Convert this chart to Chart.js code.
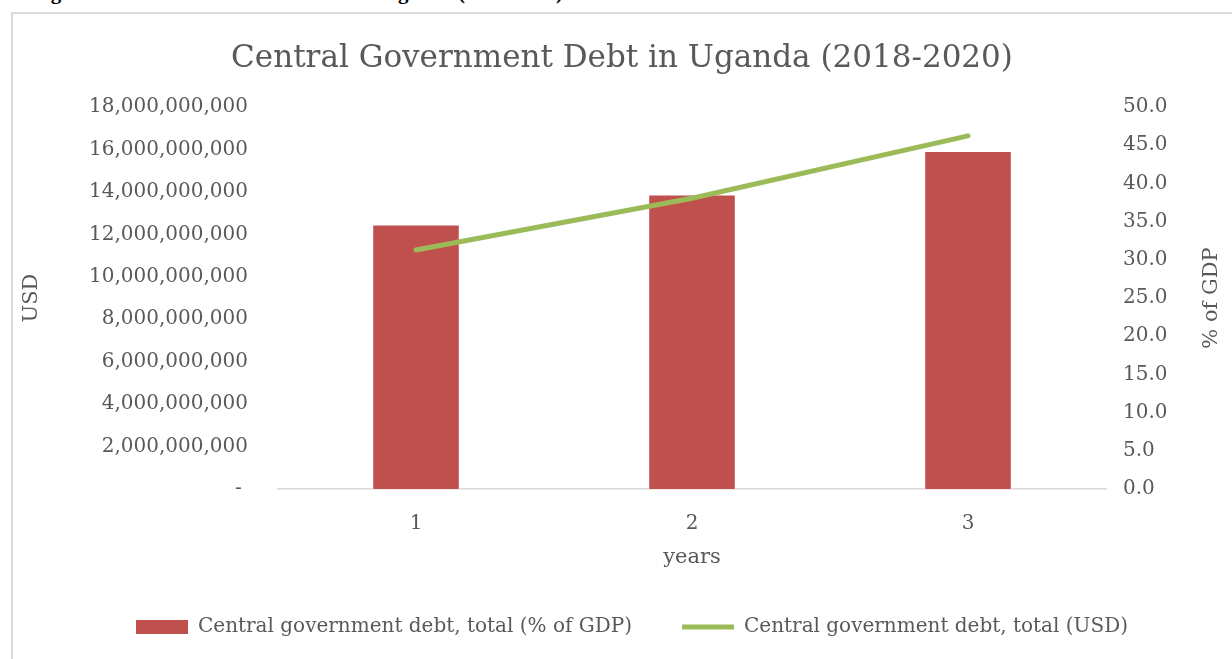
<!DOCTYPE html>
<html>
<head>
<meta charset="utf-8">
<script src="https://cdn.jsdelivr.net/npm/chart.js@4"></script>
<style>
    body { margin: 0; background: #fff; overflow: hidden; }
    #wrap { position: relative; width: 1232px; height: 659px; overflow: hidden; }
    #frame { position: absolute; left: 11px; top: 12px; right: -5px; bottom: -5px;
             border-left: 2px solid #d9d9d9; border-top: 2px solid #d9d9d9; }
    #heading { position: absolute; left: 32px; top: -20px; font: bold 21px "Liberation Serif", serif;
               line-height: 24px; color: #000; white-space: nowrap; }
    #chartBox { position: absolute; left: 0; top: 0; width: 1232px; height: 659px; }
</style>
</head>
<body>
<div id="wrap">
    <div id="heading">Figure 3: Central Government Debt in Uganda (2018-2020)</div>
    <div id="frame"></div>
    <div id="chartBox"><canvas id="debtChart" width="1232" height="659"></canvas></div>
</div>
<script>
const years = ['1', '2', '3'];
const debtPctGdp = [34.5, 38.4, 44.1];
const debtUsd = [11260000000, 13700000000, 16640000000];

const titleText = 'Central Government Debt in Uganda (2018-2020)';
const barLabel = 'Central government debt, total (% of GDP)';
const lineLabel = 'Central government debt, total (USD)';
const rightAxisTitle = '% of GDP';

const fontFamily = '"DejaVu Serif", serif';
const textColor = '#595959';

// right axis title in the reference reads bottom-to-top, so draw it ourselves
const rightTitlePlugin = {
    id: 'rightTitle',
    afterDraw(chart) {
        const scale = chart.scales.yPct;
        const ctx = chart.ctx;
        ctx.save();
        ctx.font = '21px ' + fontFamily;
        ctx.fillStyle = textColor;
        ctx.textAlign = 'center';
        ctx.textBaseline = 'middle';
        ctx.translate(scale.right - 20, (chart.chartArea.top + chart.chartArea.bottom) / 2);
        ctx.rotate(-Math.PI / 2);
        ctx.fillText(rightAxisTitle, 0, 0);
        ctx.restore();
    }
};

// legend sits a little right of centre in the reference
const legendShiftPlugin = {
    id: 'legendShift',
    afterLayout(chart) {
        chart.legend.left += 10;
        chart.legend.right += 10;
    }
};

const ctx = document.getElementById('debtChart').getContext('2d');
const debtChart = new Chart(ctx, {
    type: 'bar',
    data: {
        labels: years,
        datasets: [{
            type: 'bar',
            label: barLabel,
            data: debtPctGdp,
            yAxisID: 'yPct',
            backgroundColor: '#c0504d',
            borderWidth: 0,
            pointStyle: 'rect',
            barPercentage: 0.31,
            categoryPercentage: 1,
            order: 1
        }, {
            type: 'line',
            label: lineLabel,
            data: debtUsd,
            yAxisID: 'yUsd',
            borderColor: '#9bbb59',
            backgroundColor: '#9bbb59',
            borderWidth: 5,
            borderCapStyle: 'round',
            pointRadius: 0,
            pointStyle: 'line',
            tension: 0,
            order: 0
        }]
    },
    options: {
        responsive: false,
        animation: false,
        devicePixelRatio: 1,
        layout: {
            padding: { left: 12, right: 0, top: 10, bottom: 12 }
        },
        plugins: {
            title: {
                display: true,
                text: titleText,
                color: textColor,
                font: { family: fontFamily, size: 31, weight: 'normal' },
                padding: { top: 30.4, bottom: 29.4 }
            },
            legend: {
                position: 'bottom',
                labels: {
                    color: textColor,
                    font: { family: fontFamily, size: 20 },
                    usePointStyle: true,
                    pointStyleWidth: 52,
                    boxHeight: 14,
                    padding: 50,
                    sort: (a, b) => a.datasetIndex - b.datasetIndex
                }
            },
            tooltip: { enabled: false }
        },
        scales: {
            x: {
                offset: true,
                grid: { display: false },
                border: { display: true, color: '#d9d9d9', width: 1.5 },
                ticks: {
                    color: textColor,
                    font: { family: fontFamily, size: 20 },
                    padding: 15
                },
                title: {
                    display: true,
                    text: 'years',
                    color: textColor,
                    font: { family: fontFamily, size: 21 },
                    padding: { top: 0, bottom: -3.6 }
                },
                afterFit: (scale) => { scale.height = 78; }
            },
            yUsd: {
                position: 'left',
                min: 0,
                max: 18000000000,
                grid: { display: false },
                border: { display: false },
                ticks: {
                    stepSize: 2000000000,
                    color: textColor,
                    font: { family: fontFamily, size: 20 },
                    padding: 22,
                    callback: (v) => v === 0 ? '- ' : v.toLocaleString('en-US')
                },
                title: {
                    display: true,
                    text: 'USD',
                    color: textColor,
                    font: { family: fontFamily, size: 21 },
                    padding: { top: 6.8, bottom: 0 }
                },
                afterFit: (scale) => { scale.width = 266; }
            },
            yPct: {
                position: 'right',
                min: 0,
                max: 50,
                grid: { display: false },
                border: { display: false },
                ticks: {
                    stepSize: 5,
                    color: textColor,
                    font: { family: fontFamily, size: 20 },
                    padding: 9,
                    callback: (v) => v.toFixed(1)
                },
                afterFit: (scale) => { scale.width = 126; }
            }
        }
    },
    plugins: [rightTitlePlugin, legendShiftPlugin]
});
</script>
</body>
</html>
